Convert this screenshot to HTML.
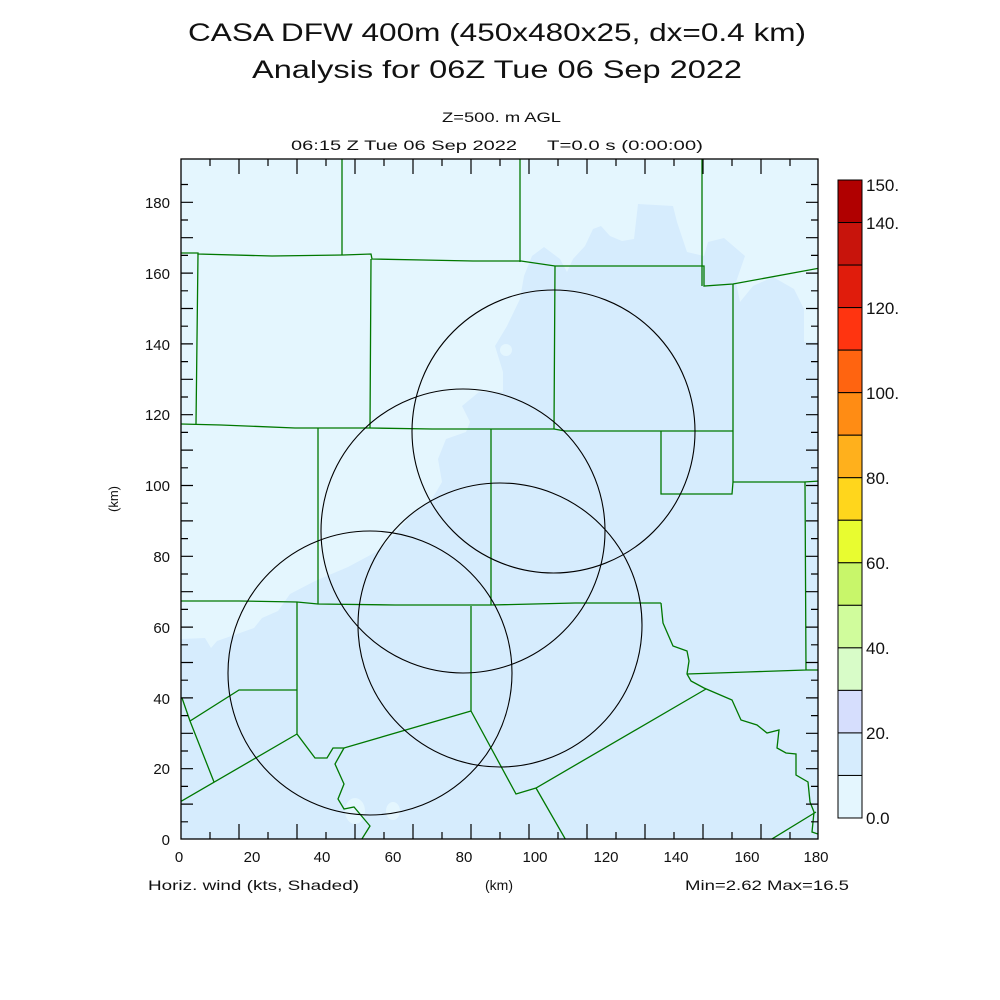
<!DOCTYPE html>
<html><head><meta charset="utf-8"><style>html,body{margin:0;padding:0;background:#fff}svg{display:block}text{font-family:"Liberation Sans",sans-serif;fill:#111}</style></head><body>
<svg width="1000" height="1000" viewBox="0 0 1000 1000" xmlns="http://www.w3.org/2000/svg">
<rect width="1000" height="1000" fill="#fff"/>
<text x="188" y="41" font-size="25" textLength="618" lengthAdjust="spacingAndGlyphs">CASA DFW 400m (450x480x25, dx=0.4 km)</text>
<text x="252" y="78" font-size="25" textLength="490" lengthAdjust="spacingAndGlyphs">Analysis for 06Z Tue 06 Sep 2022</text>
<text x="442" y="122" font-size="14" textLength="119" lengthAdjust="spacingAndGlyphs">Z=500. m AGL</text>
<text x="291" y="150" font-size="14" textLength="226" lengthAdjust="spacingAndGlyphs">06:15 Z Tue 06 Sep 2022</text>
<text x="547" y="150" font-size="14" textLength="156" lengthAdjust="spacingAndGlyphs">T=0.0 s (0:00:00)</text>
<defs><clipPath id="c"><rect x="181" y="159" width="637" height="680"/></clipPath></defs>
<g clip-path="url(#c)">
<rect x="181" y="159" width="637" height="680" fill="#e4f6fe"/>
<path fill="#d6ecfd" d="M638,204 L673,206 677,222 687,252 704,256 708,242 724,238 745,256 736,282 740,302 753,286 773,277 794,289 804,309 804,342 820,342 820,842 180,842 180,639 205,638 211,648 217,641 237,634 254,628 262,618 278,611 290,594 315,581 348,567 376,552 393,537 409,517 432,499 442,482 438,459 446,439 466,432 470,422 462,406 479,392 503,392 503,372 499,359 495,346 507,326 520,299 524,276 532,256 544,247 560,259 567,272 573,259 585,246 593,229 601,226 610,236 622,241 634,239 Z"/>
<circle cx="506" cy="350" r="6" fill="#e4f6fe"/>
<ellipse cx="355" cy="811" rx="10" ry="13" fill="#e4f6fe"/>
<ellipse cx="393" cy="811" rx="7" ry="9" fill="#e4f6fe"/>
<g fill="none" stroke="#007800" stroke-width="1.3">
<path d="M342,159 V255 M520,159 V262 M702,159 V286"/>
<path d="M180,253 L198,253 198,254 272,256 343,255 371,254 372,259 423,260 473,261 521,261 555,266 704,266 704,286 733,284 820,268"/>
<path d="M198,254 L196,424 M371,259 L370,428 M555,266 L554,429 M733,284 L733,482"/>
<path d="M180,424 L221,425 295,428 370,428 432,429 554,429 565,431 733,431"/>
<path d="M733,482 L804,482 820,481 M661,431 L661,494 732,494 733,482 M318,428 V604 M491,429 V605"/>
<path d="M180,601 L239,601 297,602 318,604 395,605 491,605 575,603 661,603"/>
<path d="M805,482 L806,670 820,670 M687,674 L747,672 806,670"/>
<path d="M661,603 L663,623 673,646 687,651 689,661 687,674 691,681 704,688 732,700 741,720 757,725 767,733 779,730 777,748 786,753 796,754 796,775 808,782 810,802 814,812 812,832 818,834"/>
<path d="M706,689 L536,788 516,794 471,711 471,606"/>
<path d="M536,788 L567,842"/>
<path d="M471,711 L344,748 333,748 327,758 315,758 297,734 297,602"/>
<path d="M297,734 L180,802 M297,690 L239,690 190,721 182,698 M190,721 L214,782"/>
<path d="M344,748 L335,764 344,784 338,799 344,809 354,807 370,826 360,842"/>
<path d="M767,842 L816,812"/>
</g>
<g fill="none" stroke="#000" stroke-width="1.1">
<circle cx="553.5" cy="431.5" r="141.5"/>
<circle cx="463" cy="531" r="142"/>
<circle cx="500" cy="625" r="142"/>
<circle cx="370" cy="673" r="142"/>
</g>
</g>
<rect x="181" y="159" width="637" height="680" fill="none" stroke="#000" stroke-width="1.3"/>
<g stroke="#000" stroke-width="1.2">
<path d="M210,159v7M239,159v15M268,159v7M297,159v15M326,159v7M355,159v15M384,159v7M413,159v15M442,159v7M471,159v15M500,159v7M529,159v15M558,159v7M587,159v15M616,159v7M645,159v15M674,159v7M703,159v15M732,159v7M761,159v15M790,159v7"/>
<path d="M210,839v-7M239,839v-15M268,839v-7M297,839v-15M326,839v-7M355,839v-15M384,839v-7M413,839v-15M442,839v-7M471,839v-15M500,839v-7M529,839v-15M558,839v-7M587,839v-15M616,839v-7M645,839v-15M674,839v-7M703,839v-15M732,839v-7M761,839v-15M790,839v-7"/>
<path d="M181,184.5h7M181,202.3h12M181,220h7M181,237.7h12M181,255.4h7M181,273.1h12M181,290.8h7M181,308.5h12M181,326.2h7M181,343.9h12M181,361.6h7M181,379.3h12M181,397h7M181,414.7h12M181,432.4h7M181,450.1h12M181,467.8h7M181,485.5h12M181,503.2h7M181,520.9h12M181,538.6h7M181,556.3h12M181,574h7M181,591.7h12M181,609.4h7M181,627.1h12M181,644.8h7M181,662.5h12M181,680.2h7M181,697.9h12M181,715.6h7M181,733.3h12M181,751h7M181,768.7h12M181,786.4h7M181,804.1h12M181,821.8h7"/>
<path d="M818,184.5h-7M818,202.3h-12M818,220h-7M818,237.7h-12M818,255.4h-7M818,273.1h-12M818,290.8h-7M818,308.5h-12M818,326.2h-7M818,343.9h-12M818,361.6h-7M818,379.3h-12M818,397h-7M818,414.7h-12M818,432.4h-7M818,450.1h-12M818,467.8h-7M818,485.5h-12M818,503.2h-7M818,520.9h-12M818,538.6h-7M818,556.3h-12M818,574h-7M818,591.7h-12M818,609.4h-7M818,627.1h-12M818,644.8h-7M818,662.5h-12M818,680.2h-7M818,697.9h-12M818,715.6h-7M818,733.3h-12M818,751h-7M818,768.7h-12M818,786.4h-7M818,804.1h-12M818,821.8h-7"/>
</g>
<g font-size="15" text-anchor="end">
<text x="170" y="208">180</text><text x="170" y="279">160</text><text x="170" y="350">140</text><text x="170" y="420">120</text><text x="170" y="491">100</text><text x="170" y="562">80</text><text x="170" y="633">60</text><text x="170" y="704">40</text><text x="170" y="774">20</text><text x="170" y="845">0</text>
</g>
<g font-size="15" text-anchor="middle">
<text x="179" y="862">0</text><text x="252" y="862">20</text><text x="322" y="862">40</text><text x="393" y="862">60</text><text x="464" y="862">80</text><text x="535" y="862">100</text><text x="606" y="862">120</text><text x="676" y="862">140</text><text x="747" y="862">160</text><text x="816" y="862">180</text>
</g>
<text x="148" y="890" font-size="14" textLength="211" lengthAdjust="spacingAndGlyphs">Horiz. wind (kts, Shaded)</text>
<text x="485" y="890" font-size="14">(km)</text>
<text x="685" y="890" font-size="14" textLength="164" lengthAdjust="spacingAndGlyphs">Min=2.62 Max=16.5</text>
<text x="0" y="0" font-size="13" transform="translate(118,512) rotate(-90)">(km)</text>
<g stroke="#000" stroke-width="1">
<rect x="838" y="180" width="24" height="42.53" fill="#b00000"/>
<rect x="838" y="222.53" width="24" height="42.53" fill="#c8140c"/>
<rect x="838" y="265.06" width="24" height="42.53" fill="#e01c0c"/>
<rect x="838" y="307.6" width="24" height="42.53" fill="#ff3410"/>
<rect x="838" y="350.13" width="24" height="42.53" fill="#ff6410"/>
<rect x="838" y="392.66" width="24" height="42.53" fill="#ff8c14"/>
<rect x="838" y="435.2" width="24" height="42.53" fill="#ffb01c"/>
<rect x="838" y="477.73" width="24" height="42.53" fill="#ffd61c"/>
<rect x="838" y="520.26" width="24" height="42.53" fill="#e8fc30"/>
<rect x="838" y="562.8" width="24" height="42.53" fill="#c8f66a"/>
<rect x="838" y="605.33" width="24" height="42.53" fill="#d0fc9c"/>
<rect x="838" y="647.86" width="24" height="42.53" fill="#d8fcc8"/>
<rect x="838" y="690.4" width="24" height="42.53" fill="#d6defd"/>
<rect x="838" y="732.93" width="24" height="42.53" fill="#d6ecfd"/>
<rect x="838" y="775.46" width="24" height="42.53" fill="#e4f6fe"/>
</g>
<g font-size="17">
<text x="866" y="191">150.</text><text x="866" y="229">140.</text><text x="866" y="314">120.</text><text x="866" y="399">100.</text><text x="866" y="484">80.</text><text x="866" y="569">60.</text><text x="866" y="654">40.</text><text x="866" y="739">20.</text><text x="866" y="824">0.0</text>
</g>
</svg>
</body></html>
